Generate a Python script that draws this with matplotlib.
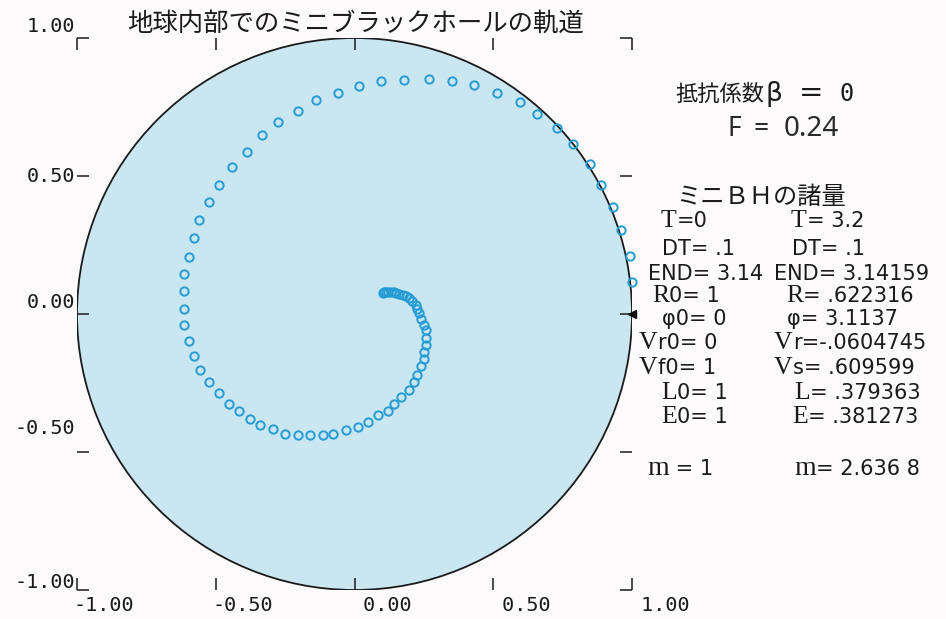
import numpy as np
import matplotlib
matplotlib.use("Agg")
import matplotlib.pyplot as plt
from matplotlib.patches import Circle

# ---- trajectory of the mini black hole (x, y in units of Earth radius) ----
orbit_x = [1.000, 0.991, 0.962, 0.933, 0.890, 0.847, 0.789, 0.728, 0.659, 0.595,
           0.515, 0.432, 0.350, 0.267, 0.180, 0.097, 0.018, -0.061, -0.137, -0.205,
           -0.274, -0.332, -0.389, -0.443, -0.490, -0.523, -0.559, -0.580, -0.598, -0.613,
           -0.616, -0.616, -0.613, -0.595, -0.577, -0.555, -0.526, -0.490, -0.454, -0.418,
           -0.378, -0.339, -0.292, -0.249, -0.202, -0.159, -0.112, -0.076, -0.029, 0.011,
           0.047, 0.083, 0.119, 0.141, 0.169, 0.195, 0.213, 0.227, 0.241, 0.249,
           0.252, 0.259, 0.259, 0.256, 0.249, 0.241, 0.234, 0.227, 0.220, 0.209,
           0.195, 0.184, 0.173, 0.162, 0.151, 0.141, 0.130, 0.119, 0.112, 0.105, 0.101]
orbit_y = [0.116, 0.210, 0.304, 0.388, 0.467, 0.543, 0.616, 0.674, 0.725, 0.768,
           0.801, 0.830, 0.844, 0.851, 0.848, 0.844, 0.826, 0.801, 0.775, 0.736,
           0.696, 0.649, 0.587, 0.533, 0.467, 0.406, 0.341, 0.275, 0.207, 0.145,
           0.083, 0.018, -0.040, -0.098, -0.152, -0.203, -0.246, -0.286, -0.326, -0.351,
           -0.380, -0.402, -0.417, -0.435, -0.438, -0.438, -0.438, -0.435, -0.420, -0.409,
           -0.391, -0.366, -0.351, -0.326, -0.301, -0.275, -0.246, -0.221, -0.188, -0.163,
           -0.138, -0.112, -0.087, -0.058, -0.040, -0.018, 0.004, 0.018, 0.033, 0.047,
           0.058, 0.065, 0.069, 0.072, 0.076, 0.080, 0.080, 0.080, 0.080, 0.080, 0.076]

# ---- axis ticks ----
tick_values = [-1.0, -0.5, 0.0, 0.5, 1.0]
x_tick_labels = ["-1.00", "-0.50", " 0.00", " 0.50", " 1.00"]
y_tick_labels = ["-1.00", "-0.50", "0.00", "0.50", "1.00"]

# ---- text ----
title = "地球内部でのミニブラックホールの軌道"
drag_pieces = ["抵抗係数", "β", "=", "0"]
force_pieces = ["F", "=", "0.24"]
block_title = "ミニＢＨの諸量"

# initial values (left column) and values at the end of the run (right column)
init_names = ["T", "DT", "END", "R0", "φ0", "Vr0", "Vf0", "L0", "E0", "m "]
init_values = ["0", " .1", " 3.14", " 1", " 0", " 0", " 1", " 1", " 1", " 1"]
final_names = ["T", "DT", "END", "R", "φ", "Vr", "Vs", "L", "E", "m"]
final_values = [" 3.2", " .1", " 3.14159", " .622316", " 3.1137", "-.0604745",
                " .609599", " .379363", " .381273", " 2.636 8"]
plain_names = ("DT", "END")   # drawn entirely in the sans face

# starting point of the orbit
r0, phi0 = 1.0, 0.0

# ---- layout (pixels of the 946 x 619 canvas) ----
W, H = 946, 619
row_y = [220, 248, 273, 295, 318, 342, 367, 392, 416, 468]
init_x = [661, 662, 648, 652, 662, 639, 639, 661, 661, 647]
final_x = [791, 792, 774, 786, 787, 774, 774, 794, 792, 794]
ylab_shift_px = [7, 24, 11, 0, 12]
drag_x = [675, 765, 799, 839]
drag_size = [16, 19, 21, 17]
force_x = [727, 753, 784]
force_size = [19, 19, 20]

fig = plt.figure(figsize=(W / 100, H / 100), dpi=100)
fig.patch.set_facecolor("#fcfafa")
renderer = fig.canvas.get_renderer()


def fx(px):
    return px / W


def fy(py):
    return 1 - py / H


ax = fig.add_axes([fx(77), 1 - 590 / H, 555 / W, 552 / H])
ax.set_xlim(-1, 1)
ax.set_ylim(-1, 1)
ax.set_facecolor("none")
for s in ax.spines.values():
    s.set_visible(False)

# Earth cross-section
ax.add_patch(Circle((0, 0), 1.0, facecolor="#cae6f1", edgecolor="#1a1a1a",
                    linewidth=1.3, zorder=1))

# orbit
ax.plot(orbit_x, orbit_y, linestyle="none", marker="o", markersize=6,
        markerfacecolor="none", markeredgecolor="#269cd4", markeredgewidth=1.4,
        clip_on=False, zorder=3)

# start marker on the surface
ax.plot([r0 * np.cos(phi0)], [r0 * np.sin(phi0)], marker="<", markersize=6,
        color="#111111", clip_on=False, zorder=4)

ax.set_xticks(tick_values)
ax.set_yticks(tick_values)
ax.tick_params(direction="in", length=8.5, width=1.1, color="#1a1a1a",
               top=True, right=True, labelbottom=False, labelleft=False)

mono = "DejaVu Sans Mono"
for v, lab in zip(tick_values, x_tick_labels):
    ax.annotate(lab, xy=(v, 0), xycoords=("data", "axes fraction"),
                xytext=(-2.5, -11), textcoords="offset points",
                ha="left", va="center", fontsize=14.5, family=mono,
                color="#1a1a1a")
for v, lab, sh in zip(tick_values, y_tick_labels, ylab_shift_px):
    ax.annotate(lab, xy=(0, v), xycoords=("axes fraction", "data"),
                xytext=(-1, sh * 0.72), textcoords="offset points",
                ha="right", va="center", fontsize=14.5, family=mono,
                color="#1a1a1a")

cjk = ["Noto Sans CJK JP", "DejaVu Sans"]
fig.text(fx(356), fy(24), title, ha="center", va="center", fontsize=18.3,
         family=cjk, color="#1a1a1a")

drag_family = [cjk, ["DejaVu Sans"], ["DejaVu Sans"], [mono]]
for txt, x, size, fam in zip(drag_pieces, drag_x, drag_size, drag_family):
    fig.text(fx(x), fy(101), txt, ha="left", va="baseline", fontsize=size,
             family=fam, color="#1a1a1a")
for txt, x, size in zip(force_pieces, force_x, force_size):
    fig.text(fx(x), fy(136), txt, ha="left", va="baseline", fontsize=size,
             family=["Noto Sans"], color="#2a2a2a")

fig.text(fx(676), fy(197), block_title, ha="left", va="center", fontsize=17.5,
         family=cjk, color="#1a1a1a")


def put_run(x_px, y_px, pieces):
    """Draw text pieces one after another on a single baseline row."""
    x = x_px
    for txt, fam, size in pieces:
        t = fig.text(fx(x), fy(y_px), txt, ha="left", va="baseline",
                     fontsize=size, family=fam, color="#1a1a1a")
        x = t.get_window_extent(renderer).x1


serif = ["Liberation Serif", "DejaVu Serif"]
sans = ["DejaVu Sans"]
SANS_PT = 15


def row_pieces(name, value):
    if name in plain_names or name[0] == "φ":
        return [(f"{name}={value}", sans, SANS_PT)]
    head, tail = name[0], name[1:]
    size = 20 if head == "m" else 18.5
    return [(head, serif, size), (f"{tail}={value}", sans, SANS_PT)]


for name, val, x, y in zip(init_names, init_values, init_x, row_y):
    put_run(x, y + 7, row_pieces(name, val))
for name, val, x, y in zip(final_names, final_values, final_x, row_y):
    put_run(x, y + 7, row_pieces(name, val))

fig.savefig("out.png", dpi=100, facecolor=fig.get_facecolor())
